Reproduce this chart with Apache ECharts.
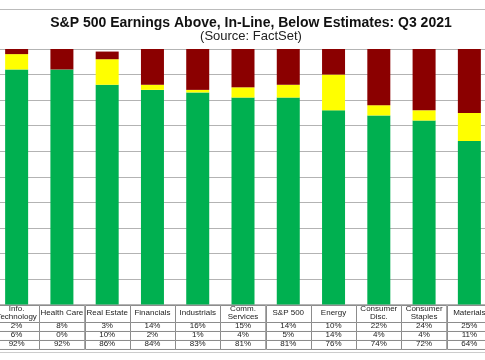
<!DOCTYPE html>
<html>
<head>
<meta charset="utf-8">
<script src="https://cdn.jsdelivr.net/npm/echarts@6/dist/echarts.min.js"></script>
<style>html,body{margin:0;padding:0;background:#fff;}#c{width:485px;height:360px;}</style>
</head>
<body>
<div id="c"></div>
<script>
const categories = ['Info.\nTechnology','Health Care','Real Estate','Financials','Industrials','Comm.\nServices','S&P 500','Energy','Consumer\nDisc.','Consumer\nStaples','Materials'];
const below  = [2, 8, 3, 14, 16, 15, 14, 10, 22, 24, 25];
const inLine = [6, 0, 10, 2, 1, 4, 5, 14, 4, 4, 11];
const above  = [92, 92, 86, 84, 83, 81, 81, 76, 74, 72, 64];
const yTicks = [0, 10, 20, 30, 40, 50, 60, 70, 80, 90, 100];

const FONT = '"Liberation Sans", Arial, sans-serif';

// table cells: row 0 header, rows 1..3 values
const tableRows = [categories, below.map(v => v + '%'), inLine.map(v => v + '%'), above.map(v => v + '%')];
const tableData = [];
tableRows.forEach((row, r) => row.forEach((t, i) => tableData.push([i, r, t])));

const chart = echarts.init(document.getElementById('c'), null, {renderer: 'canvas'});
chart.setOption({
  backgroundColor: '#fff',
  animation: false,
  title: {
    text: 'S&P 500 Earnings Above, In-Line, Below Estimates: Q3 2021',
    subtext: '(Source: FactSet)',
    left: 246, top: 11, textAlign: 'center', itemGap: 0,
    textStyle: {fontFamily: FONT, fontSize: 14, fontWeight: 'bold', color: '#111'},
    subtextStyle: {fontFamily: FONT, fontSize: 13, color: '#222'}
  },
  graphic: [
    {type: 'line', shape: {x1: 0, y1: 9.5, x2: 485, y2: 9.5}, style: {stroke: '#bbb', lineWidth: 1}},
    {type: 'line', shape: {x1: 0, y1: 352.5, x2: 485, y2: 352.5}, style: {stroke: '#ccc', lineWidth: 1}}
  ],
  grid: [
    {left: -6, width: 498, top: 49, height: 255.5, outerBoundsMode: 'none', containLabel: false},
    {left: -6, width: 498, top: 304.5, height: 44, outerBoundsMode: 'none', containLabel: false}
  ],
  xAxis: [
    {type: 'category', gridIndex: 0, data: categories, show: false},
    {type: 'category', gridIndex: 1, data: categories, show: false}
  ],
  yAxis: [
    {type: 'value', gridIndex: 0, min: yTicks[0], max: yTicks[yTicks.length - 1], interval: 10,
     axisLabel: {show: false}, axisLine: {show: false}, axisTick: {show: false},
     splitLine: {show: true, lineStyle: {color: '#b3b3b3', width: 1}}},
    {type: 'value', gridIndex: 1, min: 0, max: 4.9, inverse: true, show: false}
  ],
  series: [
    {name: 'Above', type: 'bar', stack: 's', data: above, barWidth: 23, itemStyle: {color: '#00B050'}},
    {name: 'In-Line', type: 'bar', stack: 's', data: inLine, barWidth: 23, itemStyle: {color: '#FFFF00'}},
    {name: 'Below', type: 'bar', stack: 's', data: below, barWidth: 23, itemStyle: {color: '#8B0000'}},
    {
      type: 'custom', xAxisIndex: 1, yAxisIndex: 1, data: tableData,
      renderItem: function (params, api) {
        const i = api.value(0), r = api.value(1);
        const t = tableData[params.dataIndex][2];
        const y0 = r === 0 ? 0 : 0.9 + r;
        const y1 = r === 0 ? 1.9 : 1.9 + r;
        const c = api.coord([i, 0])[0];
        const w = api.size([1, 0])[0];
        const top = api.coord([i, y0])[1];
        const bot = api.coord([i, y1])[1];
        return {
          type: 'group',
          children: [
            {type: 'rect', shape: {x: Math.round(c - w / 2) + 0.5, y: Math.round(top) + 0.5, width: w, height: bot - top},
             style: {fill: '#fff', stroke: '#8c8c8c', lineWidth: 1}},
            {type: 'text', x: c, y: (top + bot) / 2,
             style: {text: t, fill: '#222', font: '8px ' + FONT, align: 'center', verticalAlign: 'middle', lineHeight: 8}}
          ]
        };
      }
    }
  ]
});
</script>
</body>
</html>
